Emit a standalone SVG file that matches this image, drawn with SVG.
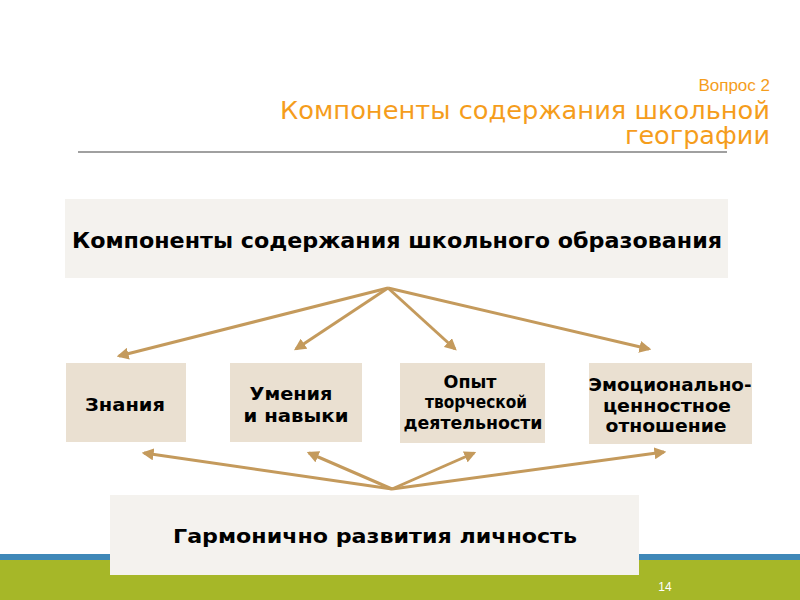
<svg xmlns="http://www.w3.org/2000/svg" width="800" height="600" viewBox="0 0 800 600">
<defs>
<style>
.t{font-family:"DejaVu Sans","Liberation Sans",sans-serif;font-weight:bold;fill:#000;text-anchor:middle;font-size:17px}
.box{fill:#eae0d1}
.big{fill:#f4f2ee}
.ttl{font-family:"DejaVu Sans","Liberation Sans",sans-serif;fill:#f59d1c;text-anchor:end}
.arr{stroke:#c49a5c;stroke-width:3;fill:none;marker-end:url(#ah)}
</style>
<marker id="ah" viewBox="0 0 10 10" refX="8" refY="5" markerWidth="4" markerHeight="4" orient="auto" markerUnits="strokeWidth">
<path d="M0,0 L10,5 L0,10 Z" fill="#c49a5c"/>
</marker>
</defs>
<rect width="800" height="600" fill="#fff"/>
<rect x="0" y="554" width="800" height="6" fill="#3f88b8"/>
<rect x="0" y="560" width="800" height="40" fill="#a6b728"/>
<text x="665" y="591" font-family="Liberation Sans,sans-serif" font-size="12" fill="#fff" text-anchor="middle">14</text>
<line x1="78" y1="152" x2="727" y2="152" stroke="#808080" stroke-width="1.5"/>
<text x="770" y="91" font-size="17" font-family="Liberation Sans,sans-serif" fill="#f59d1c" text-anchor="end">Вопрос 2</text>
<text class="ttl" x="770" y="119" font-size="24" textLength="490" lengthAdjust="spacingAndGlyphs">Компоненты содержания школьной</text>
<text class="ttl" x="770" y="144" font-size="24" textLength="145" lengthAdjust="spacingAndGlyphs">географии</text>
<g id="top"><rect class="big" x="65" y="199" width="663" height="79"/><text class="t" x="397" y="248" style="font-size:21px" textLength="650" lengthAdjust="spacingAndGlyphs">Компоненты содержания школьного образования</text></g>
<g id="n1"><rect class="box" x="66" y="363" width="120" height="79"/><text class="t" x="125" y="411" textLength="80" lengthAdjust="spacingAndGlyphs">Знания</text></g>
<g id="n2"><rect class="box" x="230" y="363" width="132" height="79"/><text class="t" x="291" y="400" textLength="83" lengthAdjust="spacingAndGlyphs">Умения</text><text class="t" x="296" y="422" textLength="105" lengthAdjust="spacingAndGlyphs">и навыки</text></g>
<g id="n3"><rect class="box" x="400" y="363" width="145" height="80"/><text class="t" x="470" y="388" textLength="53" lengthAdjust="spacingAndGlyphs">Опыт</text><text class="t" x="476" y="408" textLength="102" lengthAdjust="spacingAndGlyphs">творческой</text><text class="t" x="473" y="429" textLength="139" lengthAdjust="spacingAndGlyphs">деятельности</text></g>
<g id="n4"><rect class="box" x="589" y="363" width="163" height="81"/><text class="t" x="670" y="391" textLength="163" lengthAdjust="spacingAndGlyphs">Эмоционально-</text><text class="t" x="667" y="412" textLength="128" lengthAdjust="spacingAndGlyphs">ценностное</text><text class="t" x="666" y="432" textLength="121" lengthAdjust="spacingAndGlyphs">отношение</text></g>
<g id="bottom"><rect class="big" x="110" y="495" width="529" height="80"/><text class="t" x="375" y="543" style="font-size:20px" textLength="404" lengthAdjust="spacingAndGlyphs">Гармонично развития личность</text></g>
<g id="connectors">
<line class="arr" x1="388" y1="288" x2="119" y2="356"/>
<line class="arr" x1="388" y1="288" x2="296" y2="349"/>
<line class="arr" x1="388" y1="288" x2="455" y2="349"/>
<line class="arr" x1="388" y1="288" x2="649" y2="349"/>
<line class="arr" x1="392" y1="489" x2="144" y2="453"/>
<line class="arr" x1="392" y1="489" x2="309" y2="453"/>
<line class="arr" x1="392" y1="489" x2="474" y2="453"/>
<line class="arr" x1="392" y1="489" x2="664" y2="452"/>
</g>
</svg>
